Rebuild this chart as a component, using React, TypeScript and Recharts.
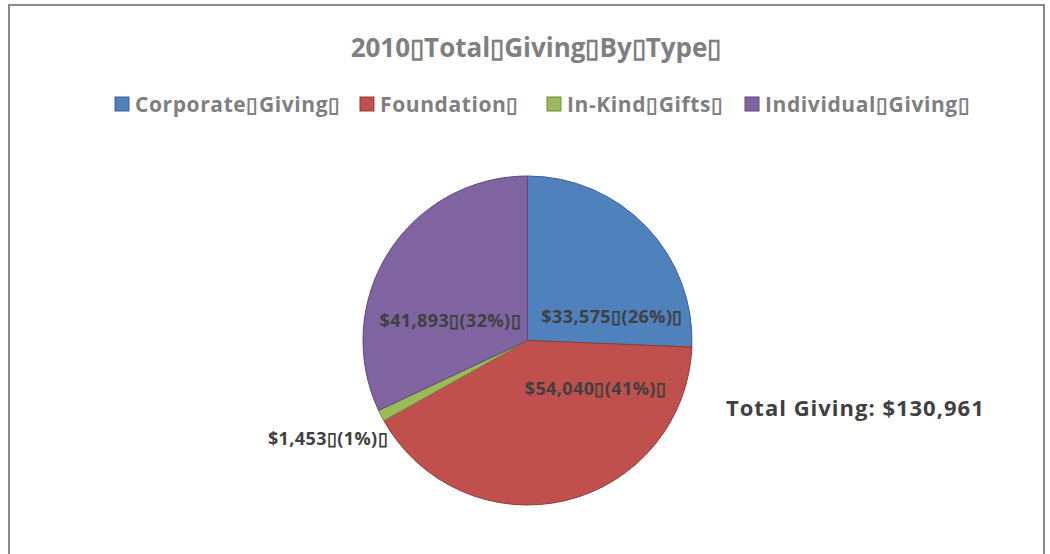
import { PieChart, Pie, Cell } from 'recharts';

const categories = ['Corporate▯Giving▯', 'Foundation▯', 'In-Kind▯Gifts▯', 'Individual▯Giving▯'];
const amounts = [33575, 54040, 1453, 41893];
const percentLabels = ['26%', '41%', '1%', '32%'];
const totalLabel = 'Total Giving: $130,961';
const title = '2010▯Total▯Giving▯By▯Type▯';

const fills = ['#4f81bd', '#c0504d', '#9bbb59', '#8064a2'];
const strokes = ['#3a6290', '#923a38', '#73893f', '#5f4a7a'];
// label placement relative to pie centre: [angle deg, distance px]
const labelPos = [
  [16, 88],
  [-35, 83],
  [-154, 222],
  [165, 80]
];

const data = categories.map((name, i) => ({ name, value: amounts[i] }));

const fmt = (v: number) => '$' + Intl.NumberFormat('en-US').format(v);
const FONT = '"Open Sans", sans-serif';

const renderLabel = (props: any) => {
  const { cx, cy, index } = props;
  const [ang, dist] = labelPos[index];
  const rad = (ang * Math.PI) / 180;
  const x = cx + dist * Math.cos(rad);
  const y = cy - dist * Math.sin(rad);
  return (
    <text
      x={x}
      y={y}
      textAnchor="middle"
      dominantBaseline="central"
      fill="#404040"
      fontFamily={FONT}
      fontWeight={700}
      fontSize={18}
      letterSpacing={0.4}
    >
      {fmt(amounts[index]) + '▯(' + percentLabels[index] + ')▯'}
    </text>
  );
};

const legendX = [115, 360, 547, 745];

export default function App() {
  return (
    <div style={{ position: 'absolute', left: 0, top: 0, width: 1050, height: 554, background: '#fff', overflow: 'hidden' }}>
      <div
        style={{
          position: 'absolute',
          left: 8,
          top: 4,
          width: 1037,
          height: 600,
          border: '2px solid #8a8a8a',
          boxSizing: 'border-box'
        }}
      />
      <PieChart
        width={1050}
        height={554}
        margin={{ top: 0, right: 0, bottom: 0, left: 0 }}
        style={{ position: 'absolute', left: 0, top: 0 }}
      >
        <text
          x={536}
          y={47}
          textAnchor="middle"
          dominantBaseline="central"
          fill="#7f7f7f"
          fontFamily={FONT}
          fontWeight={700}
          fontSize={26}
        >
          {title}
        </text>
        {categories.map((c, i) => (
          <g key={c}>
            <rect x={legendX[i]} y={97} width={14} height={14} fill={fills[i]} stroke={strokes[i]} />
            <text
              x={legendX[i] + 20}
              y={104}
              dominantBaseline="central"
              fill="#7f7f7f"
              fontFamily={FONT}
              fontWeight={700}
              fontSize={21}
              letterSpacing={0.6}
            >
              {c}
            </text>
          </g>
        ))}
        <Pie
          data={data}
          dataKey="value"
          nameKey="name"
          cx={527.5}
          cy={340.5}
          outerRadius={164.5}
          startAngle={90}
          endAngle={-270}
          label={renderLabel}
          labelLine={false}
          isAnimationActive={false}
        >
          {data.map((d, i) => (
            <Cell key={d.name} fill={fills[i]} stroke={strokes[i]} strokeWidth={1} />
          ))}
        </Pie>
        <text
          x={726}
          y={407}
          dominantBaseline="central"
          fill="#404040"
          fontFamily={FONT}
          fontWeight={700}
          fontSize={22}
          letterSpacing={1}
        >
          {totalLabel}
        </text>
      </PieChart>
    </div>
  );
}
